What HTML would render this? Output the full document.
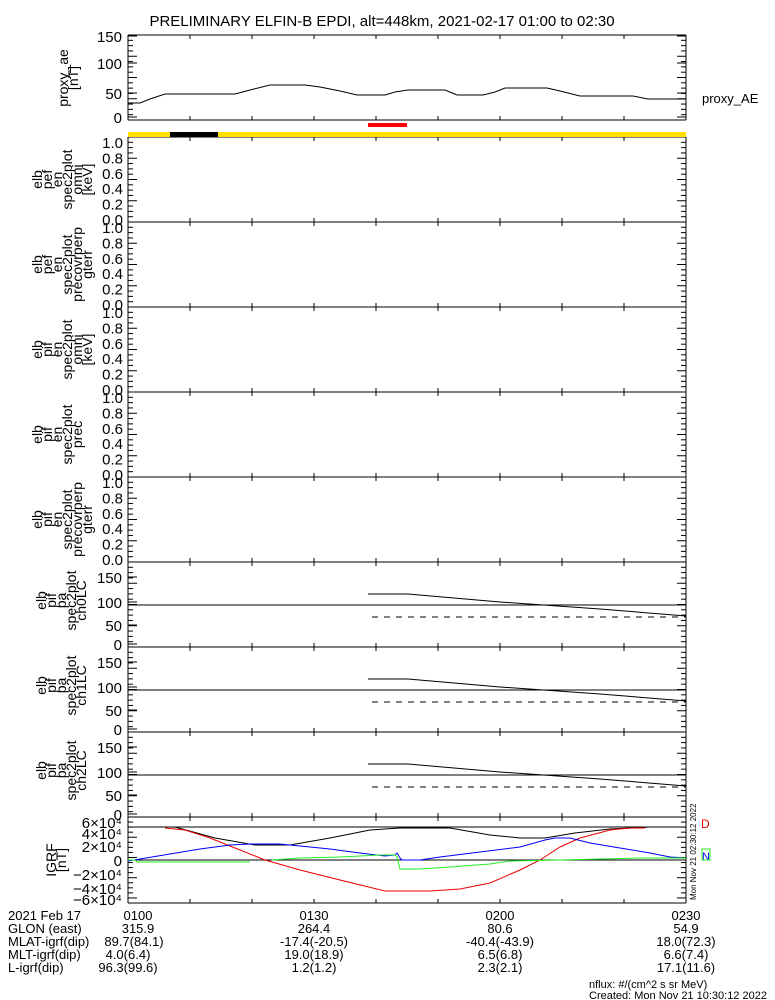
<!DOCTYPE html>
<html><head><meta charset="utf-8"><style>
html,body{margin:0;padding:0;background:#fff;}
svg{display:block;font-family:"Liberation Sans",sans-serif;}
text{fill:#000;}
</style></head><body>
<svg id="s" width="775" height="1000" viewBox="0 0 775 1000" xmlns="http://www.w3.org/2000/svg">
<text x="382" y="26" font-size="15" text-anchor="middle">PRELIMINARY ELFIN-B EPDI, alt=448km, 2021-02-17 01:00 to 02:30</text>
<g id="g" stroke="#000" stroke-width="1" fill="none"></g>
<rect x="128" y="132" width="558" height="5" fill="#ffe000"/>
<rect x="170" y="132" width="48" height="5" fill="#000"/>
<rect x="368" y="123" width="39" height="4" fill="#f00"/>
<polyline fill="none" stroke="#000" points="128,103 140,103 150,99 165,94 235,94 250,90 270,85 305,85 320,87 340,91 357,95 385,95 395,92 408,90 445,90 457,95 483,95 495,92 505,88 547,88 560,91 580,96 633,96 648,99 686,99"/>
<text x="702" y="103" font-size="13">proxy_AE</text>
<g id="t" font-size="15"></g>
<line x1="128" y1="827" x2="686" y2="827" stroke="#000"/>
<polyline fill="none" stroke="#000" points="128,827 175,827 215,838 255,845 290,845 330,838 370,830 400,828 450,828 490,835 520,838 545,838 575,833 610,829 650,827 686,827"/>
<polyline fill="none" stroke="#e00" points="165,828 185,830 210,838 240,850 265,860 300,870 340,880 385,891 430,891 460,889 490,883 520,870 540,860 560,847 580,838 610,830 630,828 645,828"/>
<polyline fill="none" stroke="#00f" points="128,861 140,859 170,854 200,849 230,845 250,844 280,844 300,846 330,849 360,853 385,856 395,855 397,853 400,858 402,860 420,860 440,857 480,852 520,847 545,840 555,838 570,838 590,843 620,848 650,853 670,857 686,858"/>
<polyline fill="none" stroke="#2e2" points="128,860 135,860 137,862 250,862"/>
<polyline fill="none" stroke="#2e2" points="272,860 300,858 340,857 380,855 395,855 397,857 400,869 420,869 450,867 490,864 510,861 560,860 640,858 686,858"/>
<text x="701" y="828" font-size="12" style="fill:#e00">D</text>
<text x="702" y="860" font-size="11" style="fill:#00f">N</text>
<rect x="702" y="849" width="8" height="11" fill="none" stroke="#2e2"/>
<text transform="translate(696,900) rotate(-90)" font-size="8">Mon Nov 21 02:30:12 2022</text>
<g font-size="13">
<text x="8" y="920">2021 Feb 17</text><text x="8" y="933">GLON (east)</text><text x="8" y="946">MLAT-igrf(dip)</text><text x="8" y="959">MLT-igrf(dip)</text><text x="8" y="972">L-igrf(dip)</text>
<g text-anchor="middle">
<text x="138" y="920">0100</text><text x="314" y="920">0130</text><text x="500" y="920">0200</text><text x="686" y="920">0230</text>
<text x="138" y="933">315.9</text><text x="314" y="933">264.4</text><text x="500" y="933">80.6</text><text x="686" y="933">54.9</text>
<text x="134" y="946">89.7(84.1)</text><text x="314" y="946">-17.4(-20.5)</text><text x="500" y="946">-40.4(-43.9)</text><text x="686" y="946">18.0(72.3)</text>
<text x="128" y="959">4.0(6.4)</text><text x="314" y="959">19.0(18.9)</text><text x="500" y="959">6.5(6.8)</text><text x="686" y="959">6.6(7.4)</text>
<text x="128" y="972">96.3(99.6)</text><text x="314" y="972">1.2(1.2)</text><text x="500" y="972">2.3(2.1)</text><text x="686" y="972">17.1(11.6)</text>
</g>
<text x="589" y="988" font-size="11">nflux: #/(cm^2 s sr MeV)</text>
<text x="589" y="999" font-size="11">Created: Mon Nov 21 10:30:12 2022</text>
</g>
</svg>
<script>
(function(){
var NS="http://www.w3.org/2000/svg",g=document.getElementById('g'),t=document.getElementById('t');
function L(x1,y1,x2,y2,c,d){var e=document.createElementNS(NS,'line');e.setAttribute('x1',x1);e.setAttribute('y1',y1);e.setAttribute('x2',x2);e.setAttribute('y2',y2);if(c)e.setAttribute('stroke',c);if(d)e.setAttribute('stroke-dasharray',d);g.appendChild(e);}
function T(x,y,s,a,fs){var e=document.createElementNS(NS,'text');e.setAttribute('x',x);e.setAttribute('y',y);e.setAttribute('text-anchor',a||'end');if(fs)e.setAttribute('font-size',fs);e.textContent=s;t.appendChild(e);}
function RT(cx,cy,lines){var n=lines.length;for(var i=0;i<n;i++){var e=document.createElementNS(NS,'text');var x=cx-(n-1-i)*10;e.setAttribute('transform','translate('+x+','+cy+') rotate(-90)');e.setAttribute('text-anchor','middle');e.setAttribute('font-size','14');e.textContent=lines[i];t.appendChild(e);}}
function frame(y0,y1){L(128,y0,686,y0);L(128,y1,686,y1);L(128,y0,128,y1);L(686,y0,686,y1);
 for(var k=0;k<=9;k++){var x=128+k*62;L(x,y0,x,y0+4);L(x,y1,x,y1-4);}
 var n=Math.round((y1-y0)/5.2);for(var k=1;k<n;k++){var y=y0+k*(y1-y0)/n;var w=(k%4==0)?9:5;L(128,y,128+w,y);L(686,y,686-w,y);}}
frame(35,120);
[["150",36],["100",63],["50",93],["0",117]].forEach(function(a){T(122,a[1]+6,a[0]);L(128,a[1],137,a[1]);L(686,a[1],677,a[1]);});
RT(78,78,["proxy_ae","[nT]"]);
var sp=[["elb","pef","en","spec2plot","omni","[keV]"],["elb","pef","en","spec2plot","precovrperp","gterr"],["elb","pif","en","spec2plot","omni","[keV]"],["elb","pif","en","spec2plot","prec"],["elb","pif","en","spec2plot","precovrperp","gterr"]];
for(var p=0;p<5;p++){var y0=137+p*85,y1=y0+85;frame(y0,y1);
 for(var k=0;k<=5;k++){var y=y1-3-k*(y1-y0-8)/5;T(123,y+6,(k*0.2).toFixed(1));}
 var ln=sp[p];RT(ln.length==6?92:82,(y0+y1)/2,ln);}
var pa=[["elb","pif","pa","spec2plot","ch0LC"],["elb","pif","pa","spec2plot","ch1LC"],["elb","pif","pa","spec2plot","ch2LC"]];
for(var p=0;p<3;p++){var y0=562+p*85,y1=y0+85;frame(y0,y1);
 [["150",15],["100",40],["50",63],["0",82]].forEach(function(a){T(122,y0+a[1]+6,a[0]);L(128,y0+a[1],137,y0+a[1]);});
 L(128,y0+43,686,y0+43);
 var e=document.createElementNS(NS,'polyline');e.setAttribute('points','368,'+(y0+32)+' 408,'+(y0+32)+' 500,'+(y0+40)+' 600,'+(y0+47)+' 686,'+(y0+54));g.appendChild(e);
 L(372,y0+55,686,y0+55,null,'6,6');
 RT(86,(y0+y1)/2-4,pa[p]);}
frame(817,903);L(128,860,686,860);
[["6×10⁴",823],["4×10⁴",834],["2×10⁴",847],["0",861],["−2×10⁴",875],["−4×10⁴",889],["−6×10⁴",900]].forEach(function(a){T(122,a[1]+5,a[0]);});
RT(66,860,["IGRF","[nT]"]);
})();
</script>
</body></html>
